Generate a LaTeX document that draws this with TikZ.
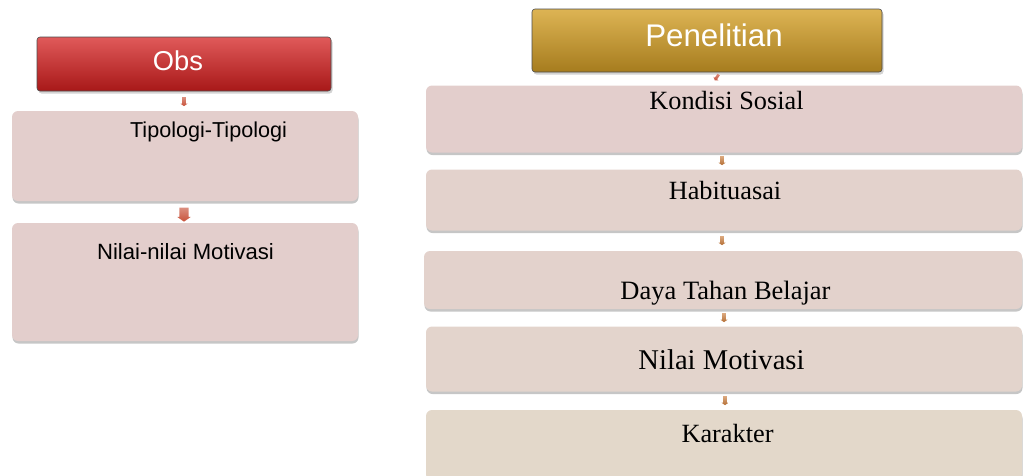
\documentclass[tikz,border=0pt]{standalone}
\usepackage{fontspec}
\setmainfont{Liberation Serif}
\newfontfamily\arialf{Liberation Sans}
\usetikzlibrary{shadows,shapes.arrows}
\definecolor{boxpink}{HTML}{E3CECC}
\definecolor{boxbeige}{HTML}{E3D4CC}
\definecolor{boxlast}{HTML}{E3D8CA}
\definecolor{redtop}{HTML}{E05A5A}
\definecolor{redbot}{HTML}{A81818}
\definecolor{goldtop}{HTML}{DDB454}
\definecolor{goldbot}{HTML}{A67C1E}
\definecolor{arrowc}{HTML}{C8523A}
\definecolor{arrowo}{HTML}{C87A3A}
\tikzset{
  px/.style={x=1pt,y=-1pt},
  headbox/.style={rounded corners=3pt, draw=black!70, line width=0.6pt,
    drop shadow={shadow xshift=1.5pt,shadow yshift=-2.5pt,opacity=0.35},
    text=white, inner sep=0pt},
  itembox/.style={rounded corners=6pt, draw=none,
    drop shadow={shadow xshift=0.5pt,shadow yshift=-2.5pt,opacity=0.45},
    inner sep=0pt},
  darrow/.style={single arrow, shape border rotate=270, draw=none,
    single arrow head extend=1.6pt, single arrow tip angle=110,
    top color=arrowc!65, bottom color=arrowc, inner sep=1.7pt,
    minimum height=#1},
  oarrow/.style={darrow=#1, top color=arrowo!65, bottom color=arrowo!90!black},
  sanslabel/.style={font=\arialf\fontsize{#1}{#1}\selectfont, anchor=base, inner sep=0pt},
  seriflabel/.style={font=\fontsize{#1}{#1}\selectfont, anchor=base, inner sep=0pt},
}
\begin{document}
\begin{tikzpicture}[px]
\useasboundingbox (0,0) rectangle (1025,475);
% left column
\node[headbox, top color=redtop, bottom color=redbot, minimum width=294pt, minimum height=54pt] (obs) at (184,64) {};
\node[sanslabel=27.3, text=white] (obst) at (178,70) {Obs};
\node[itembox, fill=boxpink, minimum width=346pt, minimum height=90pt] (tip) at (185,156) {};
\node[sanslabel=21.6] (tipt) at (208.5,137) {Tipologi-Tipologi};
\node[itembox, fill=boxpink, minimum width=346pt, minimum height=118pt] (nil) at (185,282) {};
\node[sanslabel=22.1] (nilt) at (185.5,259) {Nilai-nilai Motivasi};
\node[darrow=9pt] (a1) at (184,101) {};
\node[darrow=14pt, inner sep=4.5pt, single arrow head extend=2pt] (a2) at (184,213) {};
% right column
\node[headbox, top color=goldtop, bottom color=goldbot, minimum width=350pt, minimum height=63pt] (pen) at (707,40.5) {};
\node[sanslabel=31.3, text=white] (pent) at (714,46) {Penelitian};
\node[itembox, fill=boxpink, minimum width=596pt, minimum height=67pt] (k1) at (724,119) {};
\node[seriflabel=26.3] (k1t) at (726.5,109) {Kondisi Sosial};
\node[itembox, fill=boxbeige!60!boxpink, minimum width=596pt, minimum height=61pt] (k2) at (724,200) {};
\node[seriflabel=26.3] (k2t) at (725,199) {Habituasai};
\node[itembox, fill=boxbeige!70!boxpink, minimum width=598pt, minimum height=58pt] (k3) at (723,280) {};
\node[seriflabel=26.5] (k3t) at (725.5,299) {Daya Tahan Belajar};
\node[itembox, fill=boxbeige, minimum width=596pt, minimum height=65pt] (k4) at (724,359) {};
\node[seriflabel=28.6] (k4t) at (721.5,369) {Nilai Motivasi};
\node[itembox, fill=boxlast, minimum width=596pt, minimum height=70pt] (k5) at (724,445) {};
\node[seriflabel=26.3] (k5t) at (727.5,442) {Karakter};
\node[darrow=7pt, inner sep=1.2pt, rotate=-35] (b0) at (717,77) {};
\node[oarrow=9pt] (b1) at (722,160) {};
\node[oarrow=9pt] (b2) at (722,240) {};
\node[oarrow=9pt] (b3) at (724,317) {};
\node[oarrow=9pt] (b4) at (725,400) {};
\end{tikzpicture}
\end{document}
